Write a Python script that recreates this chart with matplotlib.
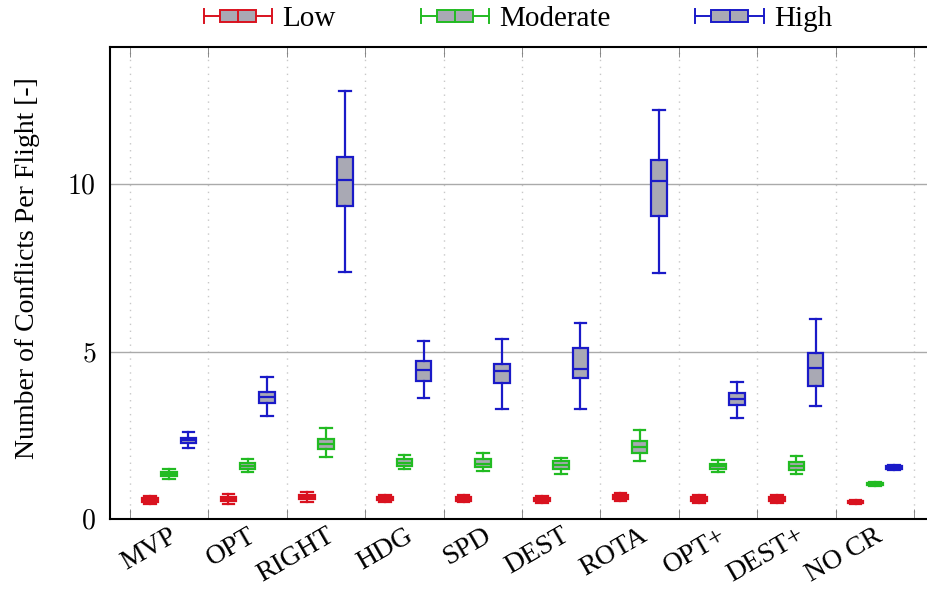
import numpy as np
import matplotlib
matplotlib.use("Agg")
import matplotlib.pyplot as plt
import matplotlib.transforms as mtrans
from matplotlib.legend_handler import HandlerBase
from matplotlib.lines import Line2D
from matplotlib.patches import Rectangle

plt.rcParams['font.family'] = ['Liberation Serif', 'DejaVu Serif']
plt.rcParams['mathtext.fontset'] = 'cm'

methods = ["MVP", "OPT", "RIGHT", "HDG", "SPD", "DEST", "ROTA", "OPT+", "DEST+", "NO CR"]
levels = ["Low", "Moderate", "High"]

# (whislo, q1, med, q3, whishi) per method
low = [
    (0.46, 0.51, 0.57, 0.63, 0.68),
    (0.46, 0.53, 0.60, 0.67, 0.74),
    (0.50, 0.60, 0.67, 0.73, 0.80),
    (0.52, 0.56, 0.61, 0.66, 0.72),
    (0.50, 0.55, 0.60, 0.66, 0.72),
    (0.49, 0.54, 0.59, 0.64, 0.69),
    (0.54, 0.61, 0.67, 0.73, 0.79),
    (0.48, 0.54, 0.60, 0.66, 0.72),
    (0.49, 0.54, 0.59, 0.65, 0.72),
    (0.45, 0.48, 0.51, 0.55, 0.58),
]
moderate = [
    (1.19, 1.27, 1.34, 1.40, 1.48),
    (1.39, 1.48, 1.58, 1.66, 1.79),
    (1.86, 2.08, 2.24, 2.39, 2.71),
    (1.48, 1.58, 1.68, 1.80, 1.92),
    (1.44, 1.55, 1.65, 1.78, 1.97),
    (1.33, 1.50, 1.62, 1.73, 1.83),
    (1.72, 1.96, 2.14, 2.33, 2.65),
    (1.41, 1.48, 1.57, 1.65, 1.76),
    (1.33, 1.46, 1.58, 1.71, 1.89),
    (0.98, 1.01, 1.04, 1.07, 1.10),
]
high = [
    (2.13, 2.28, 2.35, 2.43, 2.59),
    (3.08, 3.47, 3.64, 3.79, 4.23),
    (7.38, 9.35, 10.12, 10.80, 12.78),
    (3.62, 4.12, 4.45, 4.72, 5.31),
    (3.30, 4.06, 4.42, 4.63, 5.37),
    (3.30, 4.20, 4.48, 5.10, 5.85),
    (7.36, 9.05, 10.10, 10.71, 12.21),
    (3.02, 3.40, 3.58, 3.77, 4.08),
    (3.37, 3.97, 4.50, 4.96, 5.97),
    (1.47, 1.50, 1.53, 1.57, 1.60),
]

colors = ["#d9121f", "#22bb22", "#1a1ac8"]
face = "#a9a9b4"

fig = plt.figure(figsize=(9.28, 5.9), dpi=100)
ax = fig.add_axes([110/928, 1 - 519/590, 824/928, 472/590])

x = np.arange(len(methods))
for k, (data, clr) in enumerate(zip([low, moderate, high], colors)):
    stats = [dict(whislo=d[0], q1=d[1], med=d[2], q3=d[3], whishi=d[4], fliers=[]) for d in data]
    ax.bxp(stats, positions=x + (k - 1) * 0.245, widths=0.2, patch_artist=True,
           showfliers=False, manage_ticks=False,
           boxprops=dict(facecolor=face, edgecolor=clr, linewidth=1.6),
           medianprops=dict(color=clr, linewidth=1.6),
           whiskerprops=dict(color=clr, linewidth=1.6),
           capprops=dict(color=clr, linewidth=1.6),
           capwidths=0.15)

ax.set_xlim(-0.755, 9.755)
ax.set_ylim(0, 14.1)
ax.set_xticks(x)
ax.set_xticklabels(methods, rotation=30, ha='right', va='top', rotation_mode='anchor', fontsize=20)
shift = mtrans.ScaledTranslation(-5/100, 0, fig.dpi_scale_trans)
for lbl in ax.get_xticklabels():
    lbl.set_transform(lbl.get_transform() + shift)
ax.set_xticks(np.arange(len(methods) + 1) - 0.5, minor=True)
ax.tick_params(axis='x', which='major', length=0, pad=3)
ax.tick_params(axis='x', which='minor', direction='in', length=7, top=True, bottom=True, color='#777777')
ax.set_yticks([0, 5, 10])
ax.set_yticklabels(['$0$', '$5$', '$10$'], fontsize=20)
ax.tick_params(axis='y', length=0, pad=10)
ax.grid(axis='x', which='minor', color='#c8c8c8', linestyle=(0, (1, 4)), linewidth=1)
ax.grid(axis='y', which='major', color='#aaaaaa', linewidth=1)
ax.set_axisbelow(True)
for s in ax.spines.values():
    s.set_linewidth(1.5)
ax.set_ylabel("Number of Conflicts Per Flight [-]", fontsize=20)
ax.yaxis.set_label_coords(-0.085, 0.532)


class BoxHandler(HandlerBase):
    def create_artists(self, legend, orig_handle, xdescent, ydescent, width, height, fontsize, trans):
        clr = orig_handle.get_color()
        cy = height / 2 - ydescent
        x0 = -xdescent
        bh = height * 0.55
        ch = height * 0.65
        arts = [
            Line2D([x0, x0 + width], [cy, cy], color=clr, lw=1.4),
            Line2D([x0, x0], [cy - ch / 2, cy + ch / 2], color=clr, lw=1.4),
            Line2D([x0 + width, x0 + width], [cy - ch / 2, cy + ch / 2], color=clr, lw=1.4),
            Rectangle((x0 + width * 0.235, cy - bh / 2), width * 0.53, bh, facecolor=face, edgecolor=clr, lw=1.4),
            Line2D([x0 + width / 2, x0 + width / 2], [cy - bh / 2, cy + bh / 2], color=clr, lw=1.4),
        ]
        for a in arts:
            a.set_transform(trans)
        return arts


handles = [Line2D([], [], color=c) for c in colors]
fig.legend(handles, levels, handler_map={Line2D: BoxHandler()}, loc='center',
           bbox_to_anchor=(518/928, 1 - 19/590), ncol=3, frameon=False, fontsize=21,
           handlelength=2.35, handletextpad=0.35, columnspacing=2.9)

fig.savefig("out.png", dpi=100)
